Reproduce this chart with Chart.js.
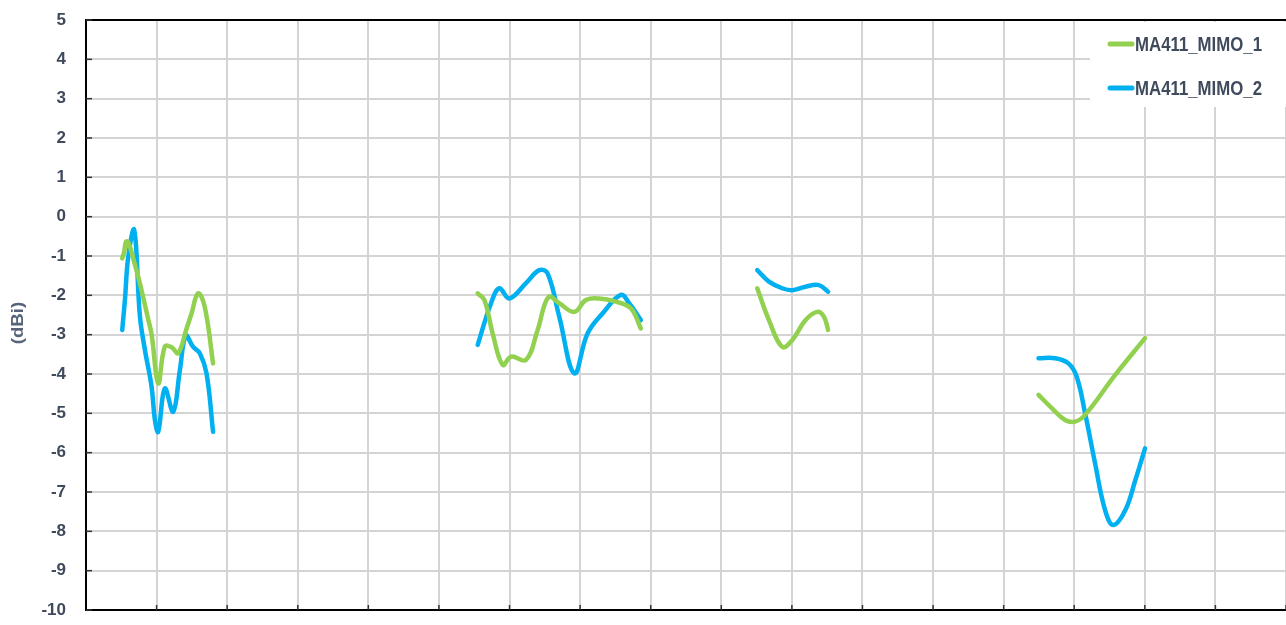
<!DOCTYPE html>
<html>
<head>
<meta charset="utf-8">
<script src="https://cdn.jsdelivr.net/npm/chart.js@4"></script>
<style>
  html, body { margin: 0; padding: 0; background: #fff; }
  #wrap { width: 1286px; height: 625px; }
</style>
</head>
<body>
<div id="wrap"><canvas id="myChart" width="1286" height="625"></canvas></div>
<script>
// series data, null = gap between bands
greenX = [0.513, 0.540, 0.566, 0.598, 0.69, 0.764, 0.88, 0.93, 1.023, 1.117, 1.212, 1.306, 1.424, 1.495, 1.588, 1.683, 1.800,
          3,
          5.549, 5.644, 5.761, 5.903, 6.021, 6.233, 6.398, 6.553, 6.704, 6.917, 7.082, 7.270, 7.506, 7.718, 7.860,
          8.5,
          9.509, 9.675, 9.863, 10.004, 10.194, 10.358, 10.453, 10.513,
          12,
          13.494, 13.682, 13.871, 14.013, 14.154, 14.578, 15.003];
greenY = [-1.06, -0.9, -0.64, -0.64, -1.2, -1.7, -2.6, -3.0, -4.24, -3.3, -3.32, -3.47, -2.85, -2.46, -1.95, -2.3, -3.73,
          null,
          -1.95, -2.12, -2.97, -3.77, -3.56, -3.64, -2.88, -2.04, -2.2, -2.42, -2.12, -2.08, -2.16, -2.33, -2.84,
          null,
          -1.82, -2.63, -3.31, -3.14, -2.63, -2.42, -2.54, -2.88,
          null,
          -4.53, -4.87, -5.17, -5.21, -5.04, -4.03, -3.09];

blueX = [0.513, 0.552, 0.6, 0.683, 0.764, 0.835, 0.929, 0.976, 1.023, 1.117, 1.235, 1.33, 1.414, 1.518, 1.612, 1.707, 1.800,
         3,
         5.549, 5.738, 5.856, 5.997, 6.233, 6.421, 6.539, 6.704, 6.917, 7.105, 7.317, 7.577, 7.694, 7.860,
         8.5,
         9.509, 9.675, 9.863, 10.004, 10.194, 10.382, 10.513,
         12,
         13.494, 13.730, 13.918, 14.035, 14.154, 14.295, 14.437, 14.554, 14.724, 14.865, 15.003];
blueY = [-2.88, -2.1, -1.0, -0.34, -2.54, -3.39, -4.32, -5.17, -5.47, -4.37, -4.96, -3.9, -3.03, -3.31, -3.47, -3.98, -5.47,
         null,
         -3.26, -2.2, -1.82, -2.08, -1.69, -1.36, -1.44, -2.54, -3.98, -2.97, -2.46, -1.99, -2.2, -2.63,
         null,
         -1.36, -1.65, -1.82, -1.87, -1.78, -1.74, -1.91,
         null,
         -3.6, -3.6, -3.73, -4.07, -5.0, -6.27, -7.46, -7.84, -7.46, -6.7, -5.89];

seriesNames = ["MA411_MIMO_1", "MA411_MIMO_2"];
seriesColors = ["#92d050", "#00b0f0"];

yTitle = "(dBi)";

function toPoints(xs, ys) {
  return xs.map((x, i) => ({ x: x, y: ys[i] }));
}

// top border, inside ticks, y title and the boxed legend
const extras = {
  id: "extras",
  afterDraw(chart) {
    const ctx = chart.ctx;
    const a = chart.chartArea;
    const xs = chart.scales.x;
    const ys = chart.scales.y;
    ctx.save();

    ctx.strokeStyle = "#000";
    ctx.lineWidth = 2;
    ctx.beginPath();
    ctx.moveTo(a.left, a.top);
    ctx.lineTo(a.right, a.top);
    ctx.stroke();

    ctx.strokeStyle = "#333";
    ctx.lineWidth = 1.5;
    for (let v = -10; v <= 5; v++) {
      const py = ys.getPixelForValue(v);
      ctx.beginPath();
      ctx.moveTo(a.left, py);
      ctx.lineTo(a.left + 6, py);
      ctx.stroke();
    }
    for (let v = 1; v <= 17; v++) {
      const px = xs.getPixelForValue(v);
      ctx.beginPath();
      ctx.moveTo(px, a.bottom);
      ctx.lineTo(px, a.bottom - 5);
      ctx.stroke();
    }

    // y title
    ctx.save();
    ctx.translate(18, 323);
    ctx.rotate(-Math.PI / 2);
    ctx.scale(1.1, 1);
    ctx.fillStyle = "#56647a";
    ctx.font = "bold 17px 'Liberation Sans', Arial, sans-serif";
    ctx.textAlign = "center";
    ctx.textBaseline = "middle";
    ctx.fillText(yTitle, 0, 0);
    ctx.restore();

    // legend
    ctx.fillStyle = "#fff";
    ctx.fillRect(1090, 22, 196, 85);
    for (let i = 0; i < seriesNames.length; i++) {
      const ly = 44 + i * 44;
      ctx.strokeStyle = seriesColors[i];
      ctx.lineWidth = 5;
      ctx.lineCap = "round";
      ctx.beginPath();
      ctx.moveTo(1110, ly);
      ctx.lineTo(1132, ly);
      ctx.stroke();
      ctx.save();
      ctx.translate(1135, ly);
      ctx.scale(0.84, 1.05);
      ctx.fillStyle = "#3f4a5c";
      ctx.font = "bold 20px 'Liberation Sans', Arial, sans-serif";
      ctx.textAlign = "left";
      ctx.textBaseline = "middle";
      ctx.fillText(seriesNames[i], 0, 1);
      ctx.restore();
    }
    ctx.restore();
  }
};

function displayData() {
  const ctx = document.getElementById("myChart");

  new Chart(ctx, {
    type: "line",
    data: {
      datasets: [
        {
          label: seriesNames[0],
          data: toPoints(greenX, greenY),
          borderColor: seriesColors[0],
          borderWidth: 4.5,
          tension: 0.4,
          pointRadius: 0,
          spanGaps: false,
          borderCapStyle: "round",
          borderJoinStyle: "round"
        },
        {
          label: seriesNames[1],
          data: toPoints(blueX, blueY),
          borderColor: seriesColors[1],
          borderWidth: 4.5,
          tension: 0.4,
          pointRadius: 0,
          spanGaps: false,
          borderCapStyle: "round",
          borderJoinStyle: "round"
        }
      ]
    },
    options: {
      responsive: false,
      animation: false,
      layout: { padding: { top: 20, right: 0, bottom: 15, left: 0 } },
      plugins: {
        legend: { display: false },
        tooltip: { enabled: false }
      },
      scales: {
        x: {
          type: "linear",
          min: 0,
          max: 17,
          ticks: { display: false, stepSize: 1 },
          grid: { color: "#d4d4d4", lineWidth: 2, drawTicks: false },
          border: { color: "#000", width: 2 },
          afterFit(scale) {
            scale.height = 0;
            scale.paddingLeft = 0;
            scale.paddingRight = 0;
          }
        },
        y: {
          min: -10,
          max: 5,
          ticks: {
            stepSize: 1,
            padding: 20,
            color: "#3f4a5c",
            font: { family: "'Liberation Sans', Arial, sans-serif", size: 17, weight: "bold" }
          },
          grid: { color: "#d4d4d4", lineWidth: 2, drawTicks: false },
          border: { color: "#000", width: 2 },
          afterFit(scale) {
            scale.width = 86;
            scale.paddingTop = 0;
            scale.paddingBottom = 0;
          }
        }
      }
    },
    plugins: [extras]
  });
}

displayData();
</script>
</body>
</html>
